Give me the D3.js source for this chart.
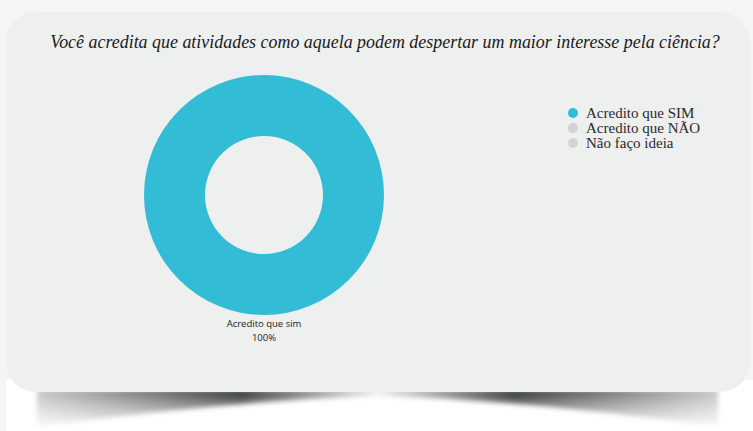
<!DOCTYPE html>
<html>
<head>
<meta charset="utf-8">
<script src="https://cdn.jsdelivr.net/npm/d3@7"></script>
<style>
  body { margin: 0; background: #f5f5f5; }
  svg { display: block; }
</style>
</head>
<body>
<script>
// dados do grafico
var categories = ['Acredito que SIM', 'Acredito que NÃO', 'Não faço ideia'];
var values = [100, 0, 0];
var colors = ['#33bcd6', '#d3d3d3', '#d3d3d3'];
var sliceLabel = 'Acredito que sim';
var title = 'Você acredita que atividades como aquela podem despertar um maior interesse pela ciência?';

var width = 753, height = 431;

var svg = d3.select('body').append('svg')
	.attr('width', width)
	.attr('height', height);

var defs = svg.append('defs');

// sombra embaixo do cartao
defs.append('filter').attr('id', 'blur')
	.attr('x', '-10%').attr('y', '-50%').attr('width', '120%').attr('height', '200%')
	.append('feGaussianBlur').attr('stdDeviation', 2.5);

var grad = defs.append('linearGradient').attr('id', 'shade')
	.attr('gradientUnits', 'userSpaceOnUse')
	.attr('x1', 37).attr('x2', 718).attr('y1', 0).attr('y2', 0);
grad.append('stop').attr('offset', '0%').attr('stop-color', '#c8c8c8');
grad.append('stop').attr('offset', '30%').attr('stop-color', '#35393b');
grad.append('stop').attr('offset', '50%').attr('stop-color', '#f0f0f0');
grad.append('stop').attr('offset', '70%').attr('stop-color', '#35393b');
grad.append('stop').attr('offset', '100%').attr('stop-color', '#c8c8c8');

var vgrad = defs.append('linearGradient').attr('id', 'fade')
	.attr('gradientUnits', 'userSpaceOnUse')
	.attr('x1', 0).attr('x2', 0).attr('y1', 392).attr('y2', 430);
vgrad.append('stop').attr('offset', '0%').attr('stop-color', '#fff');
vgrad.append('stop').attr('offset', '100%').attr('stop-color', '#000');

defs.append('mask').attr('id', 'fadeMask')
	.attr('maskUnits', 'userSpaceOnUse')
	.attr('x', 0).attr('y', 380).attr('width', width).attr('height', 60)
	.append('rect')
	.attr('x', 0).attr('y', 380).attr('width', width).attr('height', 60)
	.attr('fill', 'url(#fade)');

svg.append('rect')
	.attr('x', 6).attr('y', 380).attr('width', width).attr('height', 51)
	.attr('fill', '#fff');

svg.append('g')
	.attr('mask', 'url(#fadeMask)')
	.append('path')
	.attr('d', 'M37,390 L718,390 L718,428 Q550,402 380,396 Q210,402 37,428 Z')
	.attr('fill', 'url(#shade)')
	.attr('filter', 'url(#blur)');

// cartao
svg.append('rect')
	.attr('x', 6).attr('y', 12)
	.attr('width', 744).attr('height', 380)
	.attr('rx', 30)
	.attr('fill', '#eeefef');

// titulo: ajusta o tamanho da fonte para ocupar ~670px
var titleText = svg.append('text')
	.attr('x', 385).attr('y', 48)
	.attr('text-anchor', 'middle')
	.style('font-family', '"Liberation Serif", serif')
	.style('font-style', 'italic')
	.style('font-size', '20px')
	.style('fill', '#1a1a1a')
	.text(title);
var tlen = titleText.node().getComputedTextLength();
titleText.style('font-size', (20 * 670 / tlen) + 'px');

// rosca
var cx = 264, cy = 195;
var pie = d3.pie().sort(null).value(function(d) { return d; });
var arc = d3.arc().innerRadius(59).outerRadius(120);

var g = svg.append('g').attr('transform', 'translate(' + cx + ',' + cy + ')');
g.selectAll('path')
	.data(pie(values))
	.enter().append('path')
	.attr('d', arc)
	.attr('fill', function(d, i) { return colors[i]; });

var lbl = svg.append('text')
	.attr('x', cx).attr('y', 327)
	.attr('text-anchor', 'middle')
	.style('font-family', '"Open Sans", sans-serif')
	.style('font-size', '9.5px')
	.style('fill', '#222');
lbl.append('tspan').attr('x', cx).text(sliceLabel);
lbl.append('tspan').attr('x', cx).attr('dy', 14).text(d3.format('.0%')(values[0] / d3.sum(values)));

// legenda
var legend = svg.append('g').attr('transform', 'translate(573,113)');
var item = legend.selectAll('g')
	.data(categories)
	.enter().append('g')
	.attr('transform', function(d, i) { return 'translate(0,' + i * 15 + ')'; });
item.append('circle')
	.attr('r', 5)
	.attr('fill', function(d, i) { return colors[i]; });
item.append('text')
	.attr('x', 13).attr('y', 4.5)
	.style('font-family', '"Liberation Serif", serif')
	.style('font-size', '15px')
	.style('fill', '#2a2a2a')
	.text(function(d) { return d; });
</script>
</body>
</html>
